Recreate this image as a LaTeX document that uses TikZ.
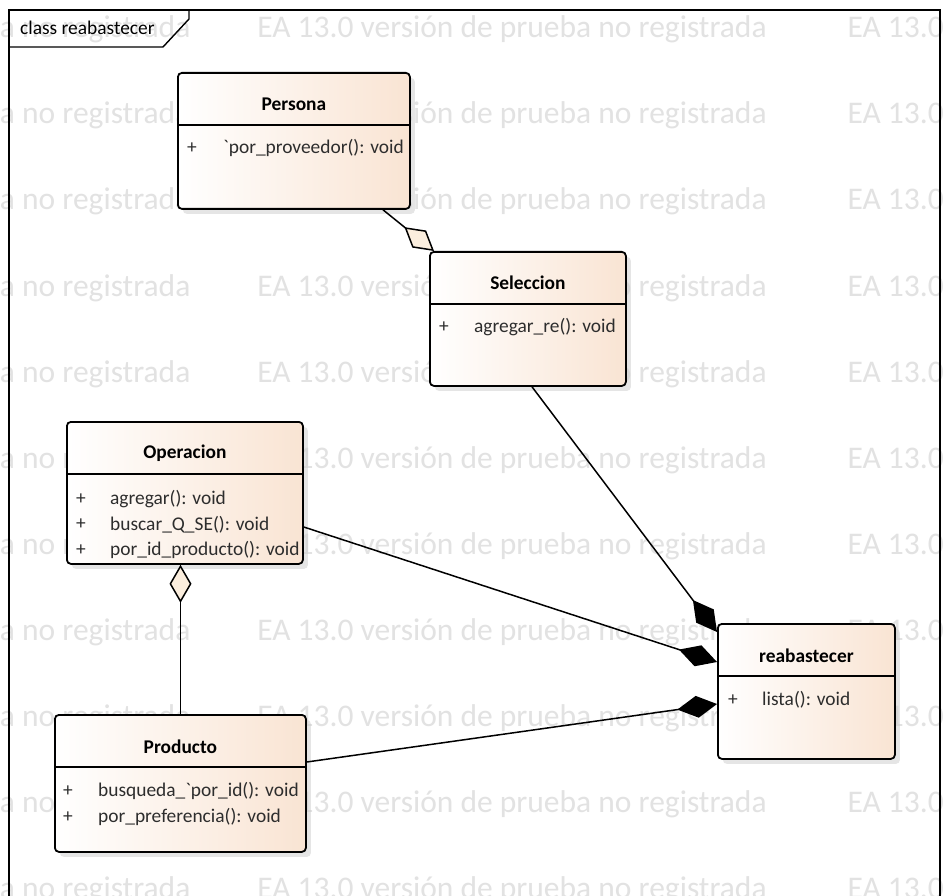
\documentclass[tikz,border=0pt]{standalone}
\usepackage{fontspec}
\setmainfont{Carlito}
\usetikzlibrary{arrows.meta,calc,shadows}

\definecolor{classend}{RGB}{249,228,211}
\definecolor{aggfill}{RGB}{251,238,222}
\definecolor{wmark}{RGB}{226,226,226}
\definecolor{membertext}{RGB}{45,45,45}

% literal backtick glyph (bypasses the TeX quote mapping)
\newcommand\bq{\XeTeXglyph\XeTeXcharglyph"60\relax}

\tikzset{
  classbox/.style={draw=black, line width=1.8pt, rounded corners=4pt,
    left color=white, right color=classend, anchor=north west, inner sep=0pt,
    drop shadow={shadow xshift=5pt, shadow yshift=-5pt, fill=black!20}},
  divider/.style={line width=1.6pt},
  classtitle/.style={font=\fontsize{19.4}{22}\selectfont\bfseries, inner sep=0pt, anchor=center},
  plusmark/.style={font=\fontsize{19.4}{22}\selectfont, text=membertext, inner sep=0pt, anchor=center},
  member/.style={font=\fontsize{19.4}{22}\selectfont, text=membertext, inner sep=0pt, anchor=west},
  aggline/.style={line width=1.5pt, -{Diamond[length=38pt, width=22pt, fill=aggfill, line width=1.5pt]}},
  compline/.style={line width=1.5pt, -{Diamond[length=40pt, width=22pt, fill=black]}},
  wmtext/.style={font=\fontsize{31.5}{32}\selectfont, text=wmark, inner sep=0pt, anchor=base west},
}

\begin{document}
\begin{tikzpicture}[x=1pt, y=-1pt]
\useasboundingbox (0,0) rectangle (948,896);
\fill[white] (0,0) rectangle (948,896);

% trial-version watermark rows
\begin{scope}
  \clip (0,0) rectangle (948,896);
  \foreach \k in {0,...,10} {
    \node[wmtext] (wm\k) at (22,{38+86*\k})
      {\llap{a }no registrada\hspace{67pt}EA 13.0 versión de prueba no registrada\hspace{81pt}EA 13.0};
  }
\end{scope}

% diagram frame and its name tab
\draw[line width=1.4pt] (9,900) -- (9,10) -- (940,10) -- (940,900);
\draw[line width=1.4pt] (9,47) -- (163,47) -- (189,19) -- (189,10);
\node[font=\fontsize{19.4}{22}\selectfont, inner sep=0pt, anchor=west] (tab) at (20,28) {class reabastecer};

% classes
\node[classbox, minimum width=232pt, minimum height=136pt] (persona) at (177,72) {};
\node[classbox, minimum width=196pt, minimum height=134pt] (sel) at (429,251) {};
\node[classbox, minimum width=236pt, minimum height=142pt] (oper) at (66,421) {};
\node[classbox, minimum width=251pt, minimum height=137pt] (prod) at (54,714) {};
\node[classbox, minimum width=177pt, minimum height=135pt] (reab) at (717,623) {};

% compartments
\foreach \c in {persona,sel,oper,prod,reab} {
  \draw[divider] ($(\c.north west)+(0,53)$) -- ($(\c.north east)+(0,53)$);
}

% Persona
\node[classtitle] (personaT) at ($(persona.north)+(0,32)$) {Persona};
\node[plusmark] (personaP1) at ($(persona.north west)+(15,76)$) {+};
\node[member] (personaM1) at ($(persona.north west)+(46,76)$) {\bq por\_proveedor(): void};

% Seleccion
\node[classtitle] (selT) at ($(sel.north)+(0,32)$) {Seleccion};
\node[plusmark] (selP1) at ($(sel.north west)+(15,76)$) {+};
\node[member] (selM1) at ($(sel.north west)+(45,76)$) {agregar\_re(): void};

% Operacion
\node[classtitle] (operT) at ($(oper.north)+(0,32)$) {Operacion};
\node[plusmark] (operP1) at ($(oper.north west)+(15,78)$) {+};
\node[member] (operM1) at ($(oper.north west)+(44,78)$) {agregar(): void};
\node[plusmark] (operP2) at ($(oper.north west)+(15,103.5)$) {+};
\node[member] (operM2) at ($(oper.north west)+(44,103.5)$) {buscar\_Q\_SE(): void};
\node[plusmark] (operP3) at ($(oper.north west)+(15,129)$) {+};
\node[member] (operM3) at ($(oper.north west)+(44,129)$) {por\_id\_producto(): void};

% Producto
\node[classtitle] (prodT) at ($(prod.north)+(0,33)$) {Producto};
\node[plusmark] (prodP1) at ($(prod.north west)+(14,77)$) {+};
\node[member] (prodM1) at ($(prod.north west)+(44,77)$) {busqueda\_\bq por\_id(): void};
\node[plusmark] (prodP2) at ($(prod.north west)+(14,103)$) {+};
\node[member] (prodM2) at ($(prod.north west)+(44,103)$) {por\_preferencia(): void};

% reabastecer
\node[classtitle] (reabT) at ($(reab.north)+(0,33)$) {reabastecer};
\node[plusmark] (reabP1) at ($(reab.north west)+(16,77)$) {+};
\node[member] (reabM1) at ($(reab.north west)+(45,77)$) {lista(): void};

% connector end points on the class borders
\coordinate (persona-out) at ($(persona.south west)+(206,0)$);
\coordinate (sel-in) at ($(sel.north west)+(5,0)$);
\coordinate (sel-out) at ($(sel.south west)+(103,0)$);
\coordinate (oper-out) at ($(oper.north east)+(0,106)$);
\coordinate (oper-in) at ($(oper.south west)+(114.5,0)$);
\coordinate (prod-out) at ($(prod.north east)+(0,48)$);
\coordinate (prod-top) at ($(prod.north west)+(126.5,0)$);
\coordinate (reab-in1) at ($(reab.north west)+(0,9)$);
\coordinate (reab-in2) at ($(reab.north west)+(0,39)$);
\coordinate (reab-in3) at ($(reab.north west)+(0,81)$);

% aggregations
\draw[aggline] (persona-out) -- (sel-in);
\draw[aggline] (prod-top) -- (oper-in);

% compositions
\draw[compline] (sel-out) -- (reab-in1);
\draw[compline] (oper-out) -- (reab-in2);
\draw[compline] (prod-out) -- (reab-in3);
\end{tikzpicture}
\end{document}
